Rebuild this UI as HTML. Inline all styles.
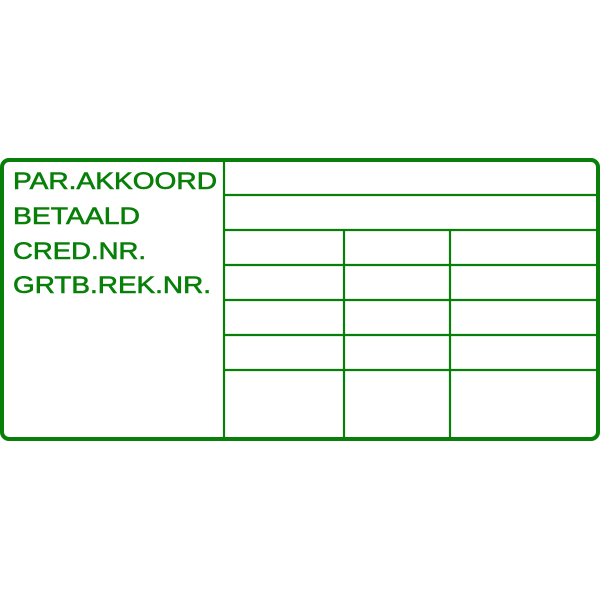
<!DOCTYPE html>
<html><head><style>body{margin:0;background:#fff}</style></head><body>
<svg width="600" height="600" xmlns="http://www.w3.org/2000/svg">
<rect x="2" y="160" width="596" height="279" rx="7" fill="#fff" stroke="#087f08" stroke-width="4"/>
<g stroke="#087f08" stroke-width="2.2">
<line x1="224" y1="160" x2="224" y2="439"/>
<line x1="344" y1="230" x2="344" y2="439"/>
<line x1="450" y1="230" x2="450" y2="439"/>
<line x1="224" y1="195" x2="598" y2="195"/>
<line x1="224" y1="230" x2="598" y2="230"/>
<line x1="224" y1="265" x2="598" y2="265"/>
<line x1="224" y1="300" x2="598" y2="300"/>
<line x1="224" y1="335" x2="598" y2="335"/>
<line x1="224" y1="370" x2="598" y2="370"/>
</g>
<g fill="#087f08" stroke="#087f08" stroke-width="0.6" font-family="Liberation Sans, sans-serif" font-size="24">
<text x="13" y="189" textLength="204" lengthAdjust="spacingAndGlyphs">PAR.AKKOORD</text>
<text x="13" y="224" textLength="127" lengthAdjust="spacingAndGlyphs">BETAALD</text>
<text x="13" y="259" textLength="133" lengthAdjust="spacingAndGlyphs">CRED.NR.</text>
<text x="13" y="293" textLength="198" lengthAdjust="spacingAndGlyphs">GRTB.REK.NR.</text>
</g>
</svg>
</body></html>
